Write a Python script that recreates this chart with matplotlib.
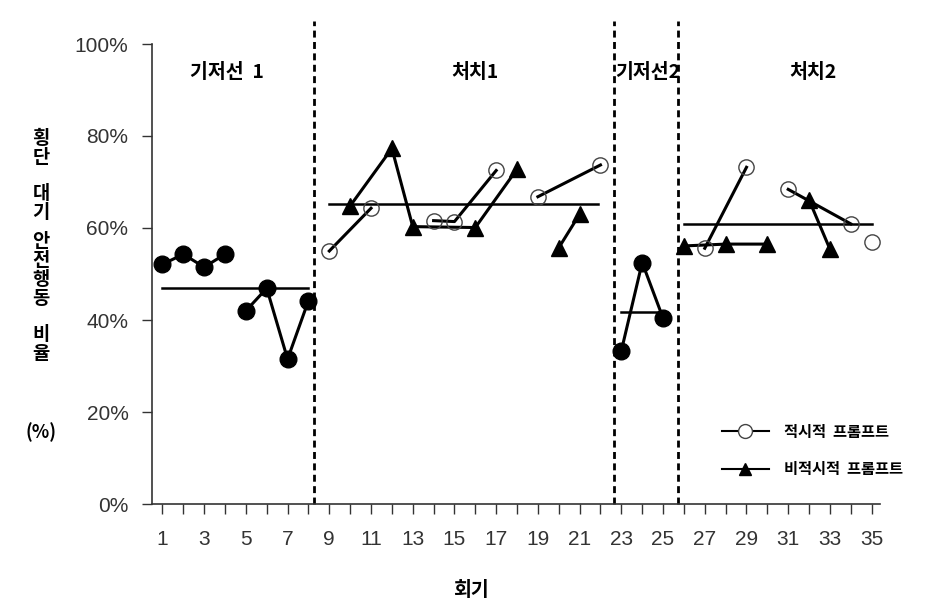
import matplotlib
matplotlib.use('Agg')
import matplotlib.pyplot as plt
from matplotlib.lines import Line2D
import numpy as np

# 한글 폰트 설정
plt.rcParams['font.family'] = ['Noto Sans CJK KR', 'DejaVu Sans']
plt.rcParams['axes.unicode_minus'] = False

# 데이터 준비 (회기, 비율 %)
base1_sessions = [1, 2, 3, 4, 5, 6, 7, 8]
base1_values = [52.1, 54.3, 51.5, 54.3, 42.0, 46.9, 31.5, 44.2]
base1_runs = [[1, 2, 3, 4], [5, 6, 7, 8]]

treat1_timely_sessions = [9, 11, 14, 15, 17, 19, 22]
treat1_timely_values = [55.0, 64.3, 61.6, 61.4, 72.5, 66.8, 73.7]
treat1_timely_runs = [[9, 11], [14, 15, 17], [19, 22]]

treat1_late_sessions = [10, 12, 13, 16, 18, 20, 21]
treat1_late_values = [64.8, 77.3, 60.3, 60.1, 72.8, 55.7, 63.0]
treat1_late_runs = [[10, 12, 13, 16, 18], [20, 21]]

base2_sessions = [23, 24, 25]
base2_values = [33.3, 52.5, 40.4]
base2_runs = [[23, 24, 25]]

treat2_timely_sessions = [27, 29, 31, 34, 35]
treat2_timely_values = [55.6, 73.2, 68.4, 60.9, 57.0]
treat2_timely_runs = [[27, 29], [31, 34], [35]]

treat2_late_sessions = [26, 28, 30, 32, 33]
treat2_late_values = [56.1, 56.5, 56.5, 66.1, 55.4]
treat2_late_runs = [[26, 28, 30], [32, 33]]

# 단계별 평균선 (시작 회기, 끝 회기, 평균)
phase_means = [(1, 8, 46.9), (9, 21.9, 65.2), (23, 25, 41.8), (26, 35, 60.9)]
phase_bounds = [8.25, 22.65, 25.7]
phase_names = ['기저선  1', '처치1', '기저선2', '처치2']
phase_label_x = [4.1, 16.0, 24.25, 32.2]

y_ticks = [0, 20, 40, 60, 80, 100]
y_tick_labels = ['0%', '20%', '40%', '60%', '80%', '100%']
x_ticks = list(range(1, 36))
x_tick_labels = [str(i) if i % 2 == 1 else '' for i in x_ticks]

fig = plt.figure(figsize=(9.31, 6.13), dpi=100)
ax = fig.add_axes([152 / 931, 1 - 504 / 613, (880 - 152) / 931, (504 - 44) / 613])


def draw_series(sessions, values, runs, style):
    lookup = dict(zip(sessions, values))
    for run in runs:
        ax.plot(run, [lookup[s] for s in run], color='black', lw=2.2, zorder=3)
    ax.plot(sessions, values, linestyle='none', zorder=4, **style)


filled = dict(marker='o', ms=12, mfc='black', mec='black')
open_c = dict(marker='o', ms=11, mfc='none', mec='#444444', mew=1.0)
tri = dict(marker='^', ms=11, mfc='black', mec='black')

draw_series(base1_sessions, base1_values, base1_runs, filled)
draw_series(base2_sessions, base2_values, base2_runs, filled)
draw_series(treat1_timely_sessions, treat1_timely_values, treat1_timely_runs, open_c)
draw_series(treat1_late_sessions, treat1_late_values, treat1_late_runs, tri)
draw_series(treat2_timely_sessions, treat2_timely_values, treat2_timely_runs, open_c)
draw_series(treat2_late_sessions, treat2_late_values, treat2_late_runs, tri)

for start, end, m in phase_means:
    ax.plot([start, end], [m, m], color='black', lw=1.8, zorder=2)

for b in phase_bounds:
    ax.plot([b, b], [0, 105], color='black', lw=2, dashes=(2.5, 1.6), clip_on=False, zorder=1)

for name, px in zip(phase_names, phase_label_x):
    ax.text(px, 93.7, name, ha='center', va='center', fontsize=14, fontweight='bold')

ax.set_xlim(0.5, 35.4)
ax.set_ylim(0, 100)
ax.set_yticks(y_ticks)
ax.set_yticklabels(y_tick_labels)
ax.set_xticks(x_ticks)
ax.set_xticklabels(x_tick_labels)
for lab in ax.get_xticklabels() + ax.get_yticklabels():
    lab.set_family(['Liberation Sans', 'DejaVu Sans'])
    lab.set_fontsize(15)
    lab.set_color('#333333')
ax.tick_params(axis='y', length=7, width=1, pad=10, color='#333333')
ax.tick_params(axis='x', length=7, width=1, pad=12, color='#333333')

for side in ['top', 'right']:
    ax.spines[side].set_visible(False)
for side in ['left', 'bottom']:
    ax.spines[side].set_color('#333333')
    ax.spines[side].set_linewidth(1.2)

ax.set_xlabel('회기', fontsize=14, fontweight='bold', va='center')
ax.xaxis.set_label_coords((471 - 152) / 728, (504 - 590) / 460)

# 세로 y축 제목
y_words = ['횡단', '대기', '안전행동', '비율']
y_word_centers = [148, 203, 270, 344]
for w, yc in zip(y_words, y_word_centers):
    fig.text(41 / 931, 1 - yc / 613, '\n'.join(w), ha='center', va='center',
             fontsize=13.5, fontweight='bold', linespacing=0.98)
fig.text(41 / 931, 1 - 432 / 613, '(%)', ha='center', va='center', fontsize=13, fontweight='bold')

handles = [
    Line2D([], [], color='black', lw=1.5, marker='o', ms=10, mfc='white', mec='#444444', mew=1.0),
    Line2D([], [], color='black', lw=1.5, marker='^', ms=9, mfc='black', mec='black'),
]
ax.legend(handles, ['적시적  프롬프트', '비적시적  프롬프트'], loc='upper left',
          bbox_to_anchor=(708 / 931, 1 - 410 / 613), bbox_transform=fig.transFigure,
          frameon=False, handlelength=3.1, handletextpad=1.0, labelspacing=1.4,
          prop={'size': 11, 'weight': 'bold'})

fig.savefig('out.png', dpi=100)
